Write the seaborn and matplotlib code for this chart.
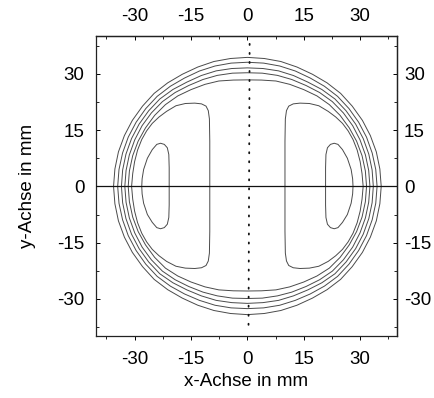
import matplotlib
matplotlib.use("Agg")
import matplotlib.pyplot as plt
import pandas as pd
import seaborn as sns

# ---------------- data (mm) ----------------
# five closed outer contours, points every 7.5 degrees (counter-clockwise from +x)
ring1_x = [35.6, 35.24, 34.3, 32.71, 30.6, 27.89, 24.8, 21.19, 17.3, 13.18, 8.9, 4.49, 0.0,
           -4.49, -8.9, -13.18, -17.3, -21.19, -24.8, -27.89, -30.6, -32.71, -34.3, -35.24, -35.6,
           -35.24, -34.3, -32.71, -30.6, -27.89, -24.8, -21.19, -17.3, -13.18, -8.9, -4.49, 0.0,
           4.49, 8.9, 13.18, 17.3, 21.19, 24.8, 27.89, 30.6, 32.71, 34.3, 35.24, 35.6]
ring1_y = [0.0, 4.64, 9.2, 13.55, 17.6, 21.40, 24.8, 27.61, 29.9, 31.83, 33.3, 34.10, 34.4,
           34.10, 33.3, 31.83, 29.9, 27.61, 24.8, 21.40, 17.6, 13.55, 9.2, 4.64, 0.0,
           -4.64, -9.2, -13.55, -17.6, -21.40, -24.8, -27.55, -29.8, -31.7, -33.1, -33.9, -34.2,
           -33.9, -33.1, -31.7, -29.8, -27.55, -24.8, -21.40, -17.6, -13.55, -9.2, -4.64, 0.0]
ring2_x = [34.5, 34.15, 33.2, 31.69, 29.6, 27.03, 24.0, 20.49, 16.7, 12.74, 8.6, 4.33, 0.0,
           -4.33, -8.6, -12.74, -16.7, -20.49, -24.0, -27.03, -29.6, -31.69, -33.2, -34.15, -34.5,
           -34.15, -33.2, -31.69, -29.6, -27.03, -24.0, -20.49, -16.7, -12.74, -8.6, -4.33, 0.0,
           4.33, 8.6, 12.74, 16.7, 20.49, 24.0, 27.03, 29.6, 31.69, 33.2, 34.15, 34.5]
ring2_y = [0.0, 4.50, 8.9, 13.13, 17.1, 20.74, 24.0, 26.70, 28.9, 30.77, 32.1, 32.87, 33.1,
           32.87, 32.1, 30.77, 28.9, 26.70, 24.0, 20.74, 17.1, 13.13, 8.9, 4.50, 0.0,
           -4.50, -8.9, -13.13, -17.1, -20.74, -24.0, -26.6, -28.7, -30.4, -31.7, -32.4, -32.6,
           -32.4, -31.7, -30.4, -28.7, -26.6, -24.0, -20.74, -17.1, -13.13, -8.9, -4.50, 0.0]
ring3_x = [33.5, 33.18, 32.3, 30.81, 28.8, 26.26, 23.3, 19.82, 16.1, 12.25, 8.3, 4.14, 0.0,
           -4.14, -8.3, -12.25, -16.1, -19.82, -23.3, -26.26, -28.8, -30.81, -32.3, -33.18, -33.5,
           -33.18, -32.3, -30.81, -28.8, -26.26, -23.3, -19.82, -16.1, -12.25, -8.3, -4.14, 0.0,
           4.14, 8.3, 12.25, 16.1, 19.82, 23.3, 26.26, 28.8, 30.81, 32.3, 33.18, 33.5]
ring3_y = [0.0, 4.37, 8.6, 12.76, 16.6, 20.15, 23.3, 25.83, 27.8, 29.56, 30.8, 31.43, 31.6,
           31.43, 30.8, 29.56, 27.8, 25.83, 23.3, 20.15, 16.6, 12.76, 8.6, 4.37, 0.0,
           -4.37, -8.6, -12.76, -16.6, -20.15, -23.3, -25.7, -27.6, -29.2, -30.4, -31.0, -31.2,
           -31.0, -30.4, -29.2, -27.6, -25.7, -23.3, -20.15, -16.6, -12.76, -8.6, -4.37, 0.0]
ring4_x = [32.6, 32.27, 31.4, 29.96, 28.0, 25.53, 22.6, 19.21, 15.6, 11.81, 8.0, 3.97, 0.0,
           -3.97, -8.0, -11.81, -15.6, -19.21, -22.6, -25.53, -28.0, -29.96, -31.4, -32.27, -32.6,
           -32.27, -31.4, -29.96, -28.0, -25.53, -22.6, -19.21, -15.6, -11.81, -8.0, -3.97, 0.0,
           3.97, 8.0, 11.81, 15.6, 19.21, 22.6, 25.53, 28.0, 29.96, 31.4, 32.27, 32.6]
ring4_y = [0.0, 4.25, 8.4, 12.41, 16.2, 19.59, 22.6, 25.03, 26.9, 28.50, 29.6, 30.19, 30.3,
           30.19, 29.6, 28.50, 26.9, 25.03, 22.6, 19.59, 16.2, 12.41, 8.4, 4.25, 0.0,
           -4.25, -8.4, -12.41, -16.2, -19.59, -22.6, -24.9, -26.7, -28.2, -29.2, -29.8, -29.9,
           -29.8, -29.2, -28.2, -26.7, -24.9, -22.6, -19.59, -16.2, -12.41, -8.4, -4.25, 0.0]
ring5_x = [31.7, 31.38, 30.5, 29.06, 27.1, 24.67, 21.8, 18.51, 15.0, 11.27, 7.6, 3.73, 0.0,
           -3.73, -7.6, -11.27, -15.0, -18.51, -21.8, -24.67, -27.1, -29.06, -30.5, -31.38, -31.7,
           -31.38, -30.5, -29.06, -27.1, -24.67, -21.8, -18.51, -15.0, -11.27, -7.6, -3.73, 0.0,
           3.73, 7.6, 11.27, 15.0, 18.51, 21.8, 24.67, 27.1, 29.06, 30.5, 31.38, 31.7]
ring5_y = [0.0, 4.13, 8.2, 12.04, 15.6, 18.93, 21.8, 24.12, 25.8, 27.21, 28.1, 28.35, 28.4,
           28.35, 28.1, 27.21, 25.8, 24.12, 21.8, 18.93, 15.6, 12.04, 8.2, 4.13, 0.0,
           -4.13, -8.2, -12.04, -15.6, -18.93, -21.8, -23.9, -25.5, -26.8, -27.6, -27.85, -27.9,
           -27.85, -27.6, -26.8, -25.5, -23.9, -21.8, -18.93, -15.6, -12.04, -8.2, -4.13, 0.0]

# two D-shaped contours
dleft_x = [-10.0, -10.0, -10.1, -10.4, -11.0, -12.2, -14.0, -16.5, -19.0, -21.5, -23.5, -25.3,
           -26.8, -28.1, -29.2, -30.0, -30.5, -30.8, -30.5, -30.0, -29.2, -28.1, -26.8, -25.3,
           -23.5, -21.5, -19.0, -16.5, -14.0, -12.2, -11.0, -10.4, -10.1, -10.0, -10.0]
dright_x = [10.0, 10.0, 10.1, 10.4, 11.0, 12.2, 14.0, 16.5, 19.0, 21.5, 23.5, 25.3,
            26.8, 28.1, 29.2, 30.0, 30.5, 30.8, 30.5, 30.0, 29.2, 28.1, 26.8, 25.3,
            23.5, 21.5, 19.0, 16.5, 14.0, 12.2, 11.0, 10.4, 10.1, 10.0, 10.0]
d_y = [0.0, 12.0, 18.0, 20.2, 21.4, 22.0, 22.2, 22.1, 21.5, 20.0, 18.5, 16.8,
       14.8, 12.5, 9.7, 6.6, 3.4, 0.0, -3.4, -6.6, -9.7, -12.5, -14.8, -16.8,
       -18.5, -20.0, -21.3, -21.8, -21.9, -21.7, -21.1, -19.9, -17.8, -12.0, 0.0]

# two small inner lobes
lleft_x = [-20.8, -20.8, -20.9, -21.3, -22.1, -23.1, -24.1, -25.3, -26.6, -27.6, -28.0, -28.1,
           -28.0, -27.6, -26.6, -25.3, -24.1, -23.1, -22.1, -21.3, -20.9, -20.8, -20.8]
lright_x = [20.8, 20.8, 20.9, 21.3, 22.1, 23.1, 24.1, 25.3, 26.6, 27.6, 28.0, 28.1,
            28.0, 27.6, 26.6, 25.3, 24.1, 23.1, 22.1, 21.3, 20.9, 20.8, 20.8]
l_y = [0.0, 5.0, 8.5, 10.3, 11.2, 11.5, 11.2, 9.8, 7.5, 4.5, 2.0, 0.0,
       -2.0, -4.5, -7.5, -9.6, -11.0, -11.3, -11.0, -10.1, -8.3, -5.0, 0.0]

# dotted centre line
dot_x = [0.6, 0.3]
dot_y = [38.0, -38.0]

ticks = [-30, -15, 0, 15, 30]
tick_labels = ["-30", "-15", "0", "15", "30"]
minor_ticks = [-37.5, -22.5, -7.5, 7.5, 22.5, 37.5]

# ---------------- figure ----------------
sns.set_style("ticks")
plt.rcParams["font.family"] = ["Liberation Sans", "DejaVu Sans"]
plt.rcParams["axes.unicode_minus"] = False
plt.rcParams["text.color"] = "black"
plt.rcParams["axes.labelcolor"] = "black"
plt.rcParams["xtick.color"] = "black"
plt.rcParams["ytick.color"] = "black"

curves = {
    "r1": (ring1_x, ring1_y), "r2": (ring2_x, ring2_y), "r3": (ring3_x, ring3_y),
    "r4": (ring4_x, ring4_y), "r5": (ring5_x, ring5_y),
    "dl": (dleft_x, d_y), "dr": (dright_x, d_y),
    "ll": (lleft_x, l_y), "lr": (lright_x, l_y),
}
rows = []
for name, (xs, ys) in curves.items():
    for i, (a, b) in enumerate(zip(xs, ys)):
        rows.append({"curve": name, "i": i, "x": a, "y": b})
df = pd.DataFrame(rows)

fig = plt.figure(figsize=(4.34, 3.98), dpi=100)
ax = fig.add_axes([95.5 / 434, 1 - 336 / 398, 301.5 / 434, 300 / 398])

sns.lineplot(data=df, x="x", y="y", units="curve", estimator=None, sort=False,
             color="#4a4a4a", lw=0.7, ax=ax, legend=False)
ax.axhline(0, color="#111111", lw=0.9, zorder=3)
sns.lineplot(x=dot_x, y=dot_y, sort=False, estimator=None, color="#111111",
             lw=1.3, linestyle=(0, (0.6, 4.4)), dash_capstyle="round", ax=ax)

ax.set_xlim(-40.4, 39.8)
ax.set_ylim(-39.9, 40.1)

fs = 13.5
ax.set_xticks(ticks)
ax.set_xticklabels(tick_labels)
ax.set_yticks(ticks)
ax.set_yticklabels(tick_labels)
ax.set_xticks(minor_ticks, minor=True)
ax.set_yticks(minor_ticks, minor=True)
ax.tick_params(axis="x", which="major", direction="out", length=3, width=0.7, pad=7.5, labelsize=fs)
ax.tick_params(axis="x", which="minor", direction="out", length=2.2, width=0.6)
ax.tick_params(axis="y", which="major", direction="in", length=3, width=0.7, pad=8, labelsize=fs)
ax.tick_params(axis="y", which="minor", direction="in", length=2.2, width=0.6)

top = ax.secondary_xaxis("top")
top.set_xticks(ticks)
top.set_xticklabels(tick_labels)
top.set_xticks(minor_ticks, minor=True)
top.tick_params(which="major", direction="in", length=3, width=0.7, pad=8, labelsize=fs)
top.tick_params(which="minor", direction="in", length=2.2, width=0.6)

right = ax.secondary_yaxis("right")
right.set_yticks(ticks)
right.set_yticklabels(tick_labels)
right.set_yticks(minor_ticks, minor=True)
right.tick_params(which="major", direction="in", length=3, width=0.7, pad=5, labelsize=fs)
right.tick_params(which="minor", direction="in", length=2.2, width=0.6)

for s in ax.spines.values():
    s.set_linewidth(0.9)
    s.set_color("#222222")
for sec in (top, right):
    for s in sec.spines.values():
        s.set_linewidth(0.9)
        s.set_color("#222222")

ax.set_xlabel("x-Achse in mm", fontsize=fs)
ax.set_ylabel("y-Achse in mm", fontsize=fs)
ax.xaxis.label.set_va("center")
ax.yaxis.label.set_va("center")
ax.xaxis.set_label_coords(0.5, -0.15)
ax.yaxis.set_label_coords(-0.225, 0.5)

fig.savefig("out.png", dpi=100)
